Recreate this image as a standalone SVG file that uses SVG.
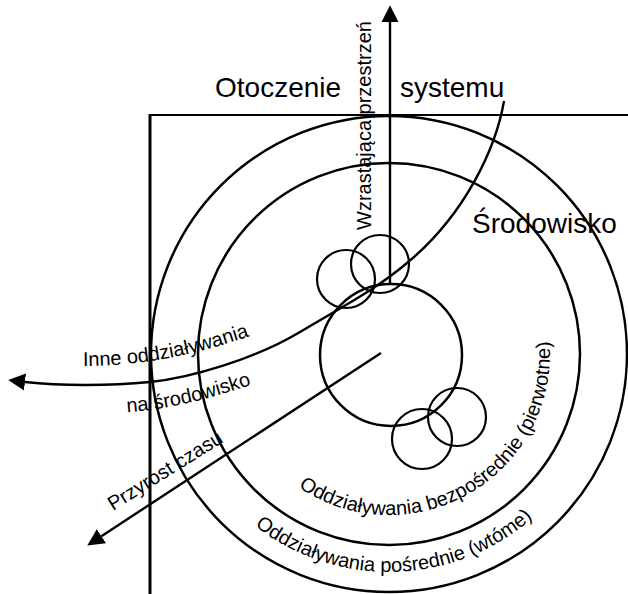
<svg xmlns="http://www.w3.org/2000/svg" width="628" height="594" viewBox="0 0 628 594">
  <style>
    .ring { fill: none; stroke: #000; stroke-width: 2.5; }
    .bubble { fill: none; stroke: #000; stroke-width: 2.2; }
    .wire { fill: none; stroke: #000; stroke-width: 2.4; }
    .big { font-family: "Liberation Sans", Arial, sans-serif; font-size: 28px; fill: #000; }
    .small { font-family: "Liberation Sans", Arial, sans-serif; font-size: 20px; fill: #000; }
  </style>
  <defs>
    <marker id="head" markerUnits="userSpaceOnUse" markerWidth="18" markerHeight="18" refX="0" refY="7.5" orient="auto" viewBox="0 0 16 15">
      <path d="M0,0 L15,7.5 L0,15 Z" fill="#000"/>
    </marker>
    <!-- baselines for the curved labels -->
    <path id="arcDirect" d="M298.5,487.2 A161,161 0 0 0 544.5,312.3"/>
    <path id="arcIndirect" d="M254.8,525.8 A218,218 0 0 0 556,494"/>
    <path id="flowAbove" d="M70,366 C140,367 200,356 280,325"/>
    <path id="flowBelow" d="M110,413 C160,412 210,400 270,378"/>
  </defs>

  <!-- system boundary frame -->
  <g id="frame">
    <line x1="150" y1="115" x2="628" y2="115" stroke="#000" stroke-width="2"/>
    <line x1="150" y1="114" x2="150" y2="594" stroke="#000" stroke-width="3"/>
  </g>

  <!-- concentric zones -->
  <g id="outer-zone"><circle class="ring" cx="389" cy="354" r="238"/></g>
  <g id="inner-zone"><circle class="ring" cx="389" cy="354" r="191"/></g>
  <g id="core"><circle class="ring" cx="391" cy="355" r="71"/></g>

  <!-- satellite bubbles -->
  <g id="bubble-a"><circle class="bubble" cx="346" cy="279" r="29"/></g>
  <g id="bubble-b"><circle class="bubble" cx="380" cy="264" r="29"/></g>
  <g id="bubble-c"><circle class="bubble" cx="422" cy="439" r="30"/></g>
  <g id="bubble-d"><circle class="bubble" cx="457" cy="417" r="29"/></g>

  <!-- connectors -->
  <g id="connectors">
    <line class="wire" x1="390" y1="283" x2="390" y2="22" stroke-width="2" marker-end="url(#head)"/>
    <path class="wire" d="M504,101 C496,148 465,215 407,263 C375,290 345,305 300,332 C255,359 190,378 150,382 C110,386 60,386 25,382" marker-end="url(#head)"/>
    <line class="wire" x1="381" y1="353" x2="101.4" y2="536.2" marker-end="url(#head)"/>
  </g>

  <!-- labels -->
  <g id="labels">
    <text class="big" x="215" y="97">Otoczenie</text>
    <text class="big" x="400" y="97">systemu</text>
    <text class="big" x="472" y="233">Środowisko</text>
    <text class="small" transform="translate(371,230) rotate(-90)" x="0" y="0">Wzrastająca przestrzeń</text>
    <text class="small"><textPath href="#flowAbove" startOffset="13">Inne oddziaływania</textPath></text>
    <text class="small"><textPath href="#flowBelow" startOffset="17">na środowisko</textPath></text>
    <text class="small" transform="translate(113,511) rotate(-32)" x="0" y="0" font-size="21">Przyrost czasu</text>
    <text class="small"><textPath href="#arcDirect">Oddziaływania bezpośrednie (pierwotne)</textPath></text>
    <text class="small"><textPath href="#arcIndirect">Oddziaływania pośrednie (wtóme)</textPath></text>
  </g>
</svg>
